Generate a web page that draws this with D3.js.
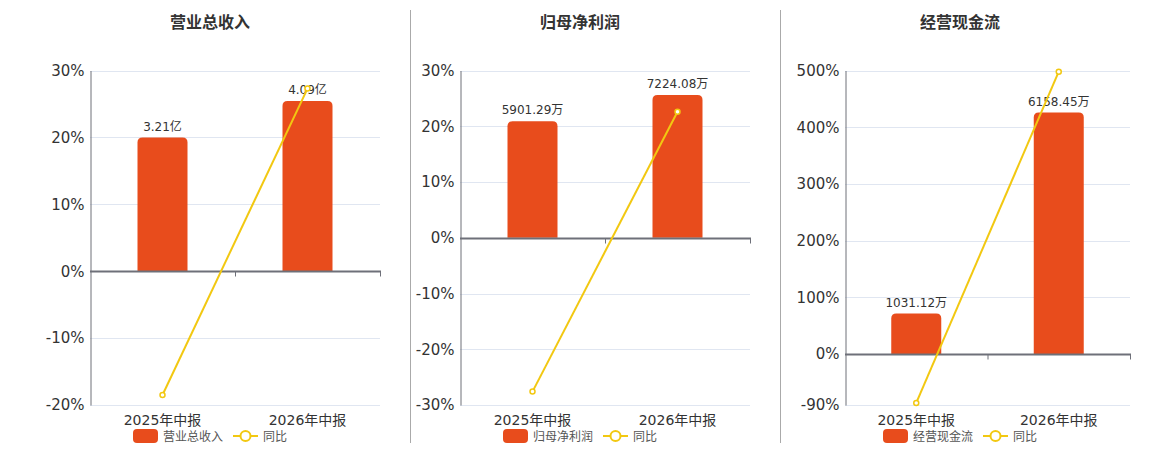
<!DOCTYPE html>
<html>
<head>
<meta charset="utf-8">
<script src="https://cdn.jsdelivr.net/npm/d3@7"></script>
<style>
  body { margin: 0; background: #fff; }
  svg { display: block; font-family: "DejaVu Sans", "Noto Sans CJK SC", sans-serif; }
</style>
</head>
<body>
<div id="chart"></div>
<script>
// chart values
var categories = ["2025年中报", "2026年中报"];
var titles = ["营业总收入", "归母净利润", "经营现金流"];
var barValues = [[3.21, 4.09], [5901.29, 7224.08], [1031.12, 6158.45]];
var barLabels = [["3.21亿", "4.09亿"], ["5901.29万", "7224.08万"], ["1031.12万", "6158.45万"]];
var yoyValues = [[-18.5, 27.3], [-27.6, 22.6], [-86.4, 498]];
var pctTicks = [[-20, -10, 0, 10, 20, 30], [-30, -20, -10, 0, 10, 20, 30], [-90, 0, 100, 200, 300, 400, 500]];
var barAxisMax = [4.82, 8470, 7230]; // hidden bar axis, zero aligned with the % axis
var lineName = "同比";

var barColor = "#e84c1c";
var lineColor = "#f2c811";

// panel layout
var plotLeft = [90, 460, 845];
var plotRight = [380, 750, 1130];
var titleX = [210, 580, 960];
var plotTop = 70.5, plotBottom = 405;

var svg = d3.select("#chart").append("svg")
	.attr("width", 1160)
	.attr("height", 450);

// separators between panels
[410.5, 780.5].forEach(function(x) {
	svg.append("line")
		.attr("x1", x).attr("x2", x)
		.attr("y1", 10).attr("y2", 443)
		.style("stroke", "#aaa")
		.style("stroke-width", 1);
});

function topRounded(x, y, w, h, r) {
	r = Math.min(r, h, w / 2);
	return "M" + x + "," + (y + h) +
		"V" + (y + r) +
		"Q" + x + "," + y + " " + (x + r) + "," + y +
		"H" + (x + w - r) +
		"Q" + (x + w) + "," + y + " " + (x + w) + "," + (y + r) +
		"V" + (y + h) + "Z";
}

titles.forEach(function(title, i) {
	var g = svg.append("g");
	var ticks = pctTicks[i];

	var y = d3.scaleLinear()
		.domain([d3.min(ticks), d3.max(ticks)])
		.range([plotBottom, plotTop]);
	var zeroY = y(0);

	var yBar = d3.scaleLinear()
		.domain([0, barAxisMax[i]])
		.range([zeroY, plotTop]);

	var x = d3.scaleBand()
		.domain(categories)
		.range([plotLeft[i], plotRight[i]]);

	// title
	g.append("text")
		.attr("x", titleX[i])
		.attr("y", 28)
		.attr("text-anchor", "middle")
		.style("font-family", "'Noto Sans CJK SC', sans-serif")
		.style("font-size", "16px")
		.style("font-weight", "bold")
		.style("fill", "#333")
		.text(title);

	// grid lines
	g.selectAll(".grid")
		.data(ticks)
		.enter().append("line")
		.attr("x1", plotLeft[i]).attr("x2", plotRight[i])
		.attr("y1", function(d) { return Math.round(y(d)) + 0.5; })
		.attr("y2", function(d) { return Math.round(y(d)) + 0.5; })
		.style("stroke", "#e0e6f1")
		.style("stroke-width", 1);

	// y axis
	var yAxis = g.append("g")
		.attr("transform", "translate(" + (plotLeft[i] + 0.5) + ",0)")
		.call(d3.axisLeft(y).tickValues(ticks).tickSize(0).tickPadding(6)
			.tickFormat(function(d) { return d + "%"; }));
	yAxis.select(".domain").style("stroke", "#6e7079");
	yAxis.selectAll("text")
		.style("font-family", "'DejaVu Sans', sans-serif")
		.style("font-size", "15px")
		.style("fill", "#333");

	// bars
	g.selectAll(".bar")
		.data(barValues[i])
		.enter().append("path")
		.attr("class", "bar")
		.attr("d", function(d, j) {
			var w = 50;
			var bx = x(categories[j]) + x.bandwidth() / 2 - w / 2;
			return topRounded(bx, yBar(d), w, zeroY - yBar(d), 5);
		})
		.style("fill", barColor);

	// bar labels
	g.selectAll(".blabel")
		.data(barValues[i])
		.enter().append("text")
		.attr("x", function(d, j) { return x(categories[j]) + x.bandwidth() / 2; })
		.attr("y", function(d) { return yBar(d) - 7; })
		.attr("text-anchor", "middle")
		.style("font-size", "12px")
		.style("fill", "#333")
		.text(function(d, j) { return barLabels[i][j]; });

	// zero axis with category ticks
	var xAxis = g.append("g")
		.attr("transform", "translate(0," + (Math.round(zeroY) + 0.5) + ")");
	xAxis.append("line")
		.attr("x1", plotLeft[i]).attr("x2", plotRight[i] + 1)
		.style("stroke", "#6e7079")
		.style("stroke-width", 2);
	xAxis.selectAll(".tk")
		.data(categories)
		.enter().append("line")
		.attr("x1", function(d) { return x(d) + x.bandwidth() + 0.5; })
		.attr("x2", function(d) { return x(d) + x.bandwidth() + 0.5; })
		.attr("y1", 0).attr("y2", 5)
		.style("stroke", "#6e7079");

	// category labels
	g.selectAll(".xlabel")
		.data(categories)
		.enter().append("text")
		.attr("x", function(d) { return x(d) + x.bandwidth() / 2; })
		.attr("y", 425)
		.attr("text-anchor", "middle")
		.style("font-size", "14px")
		.style("fill", "#333")
		.text(function(d) { return d; });

	// yoy line
	var pts = yoyValues[i].map(function(v, j) {
		return [x(categories[j]) + x.bandwidth() / 2, y(v)];
	});
	g.append("path")
		.attr("d", d3.line()(pts))
		.style("fill", "none")
		.style("stroke", lineColor)
		.style("stroke-width", 2);
	g.selectAll(".dot")
		.data(pts)
		.enter().append("circle")
		.attr("cx", function(d) { return d[0]; })
		.attr("cy", function(d) { return d[1]; })
		.attr("r", 2.5)
		.style("fill", "#fff")
		.style("stroke", lineColor)
		.style("stroke-width", 1.5);

	// legend
	var lg = g.append("g")
		.attr("transform", "translate(" + (titleX[i] - 77) + ",436)");
	lg.append("rect")
		.attr("x", 0).attr("y", -7)
		.attr("width", 25).attr("height", 14)
		.attr("rx", 4)
		.style("fill", barColor);
	lg.append("text")
		.attr("x", 30).attr("y", 4.5)
		.style("font-family", "'Noto Sans CJK SC', sans-serif")
		.style("font-size", "12px")
		.style("fill", "#555")
		.text(title);
	lg.append("line")
		.attr("x1", 100).attr("x2", 125)
		.style("stroke", lineColor)
		.style("stroke-width", 2);
	lg.append("circle")
		.attr("cx", 112.5).attr("cy", 0)
		.attr("r", 5)
		.style("fill", "#fff")
		.style("stroke", lineColor)
		.style("stroke-width", 2);
	lg.append("text")
		.attr("x", 130).attr("y", 4.5)
		.style("font-family", "'Noto Sans CJK SC', sans-serif")
		.style("font-size", "12px")
		.style("fill", "#555")
		.text(lineName);
});
</script>
</body>
</html>
